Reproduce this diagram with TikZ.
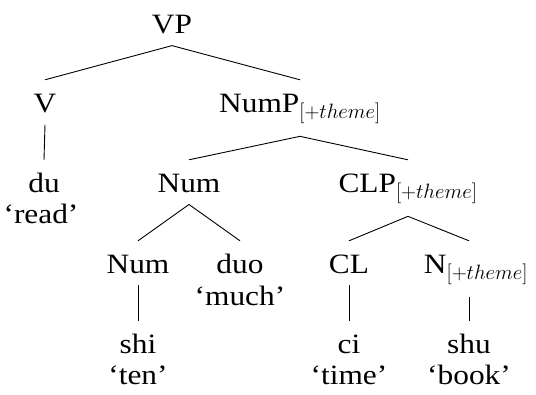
\documentclass[tikz,border=0pt]{standalone}
\usepackage{fontspec}
\setmainfont[FakeStretch=1.12]{Liberation Serif}
\DeclareMathSizes{28}{24.88}{20.74}{14.4}
\begin{document}
\begin{tikzpicture}[x=1pt,y=-1pt,
  font=\fontsize{28}{31}\selectfont,
  every node/.style={inner sep=0pt},
  cat/.style={anchor=base, text height=20pt, inner ysep=12pt, inner xsep=0pt},
  gloss/.style={anchor=base},
  branch/.style={line width=0.9pt}]
\useasboundingbox (0,0) rectangle (536,394);
\node[cat] (VP) at (172,33) {VP};
\node[cat] (V) at (45,112) {V};
\node[cat] (NumP) at (300,112) {NumP$_{[+theme]}$};
\node[cat] (du) at (44,192) {du};
\node[gloss] (read) at (41,223) {‘read’};
\node[cat] (Num) at (189,192) {Num};
\node[cat] (CLP) at (408,192) {CLP$_{[+theme]}$};
\node[cat] (Num2) at (138,273) {Num};
\node[cat] (duo) at (240,273) {duo};
\node[gloss] (much) at (240,305) {‘much’};
\node[cat] (CL) at (349,273) {CL};
\node[cat] (N) at (476,273) {N$_{[+theme]}$};
\node[cat] (shi) at (138,353) {shi};
\node[gloss] (ten) at (138,384) {‘ten’};
\node[cat] (ci) at (349,353) {ci};
\node[gloss] (time) at (349,384) {‘time’};
\node[cat] (shu) at (469,353) {shu};
\node[gloss] (book) at (469,384) {‘book’};
\draw[branch] (VP.south) -- (V.north);
\draw[branch] (VP.south) -- (NumP.north);
\draw[branch] (V.south) -- (du.north);
\draw[branch] (NumP.south) -- (Num.north);
\draw[branch] (NumP.south) -- (CLP.north);
\draw[branch] (Num.south) -- (Num2.north);
\draw[branch] (Num.south) -- (duo.north);
\draw[branch] (CLP.south) -- (CL.north);
\draw[branch] (CLP.south) -- (N.north -| shu.north);
\draw[branch] (Num2.south) -- (shi.north);
\draw[branch] (CL.south) -- (ci.north);
\draw[branch] (N.south -| shu.north) -- (shu.north);
\end{tikzpicture}
\end{document}
